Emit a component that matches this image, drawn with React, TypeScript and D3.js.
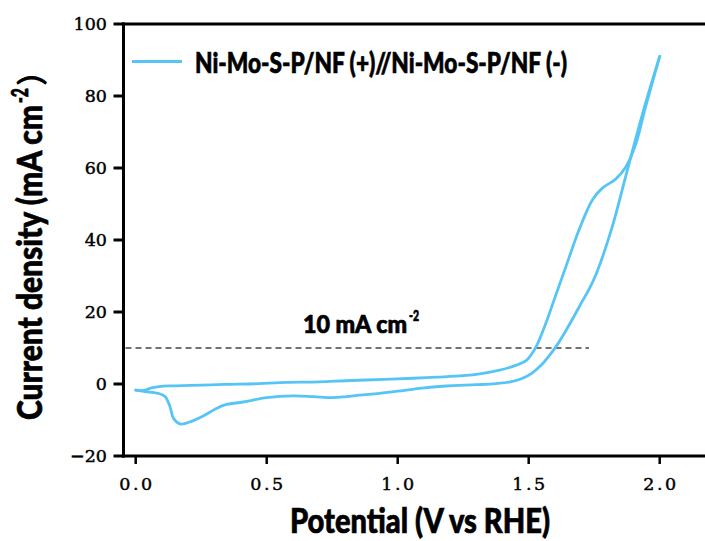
import React from "react";
import * as d3 from "d3";

const yTicks = [-20, 0, 20, 40, 60, 80, 100];
const yTickLabels = ["\u221220", "0", "20", "40", "60", "80", "100"];
const xTicks = [0, 0.5, 1.0, 1.5, 2.0];
const xTickLabels = ["0.0", "0.5", "1.0", "1.5", "2.0"];

// Branch with upper baseline at low potential and shoulder at high potential
const scanUpper: [number, number][] = [
  [0.0, -1.7], [0.03, -1.8], [0.06, -1.1], [0.09, -0.7], [0.15, -0.5],
  [0.25, -0.3], [0.34, -0.1], [0.47, 0.1], [0.55, 0.4], [0.7, 0.6],
  [0.8, 0.9], [0.95, 1.3], [1.06, 1.6], [1.15, 1.9], [1.25, 2.3],
  [1.32, 2.9], [1.38, 3.7], [1.44, 4.9], [1.49, 6.5], [1.51, 8.2],
  [1.53, 10.6], [1.565, 16.8], [1.6, 24.0], [1.642, 32.6], [1.692, 42.8],
  [1.743, 51.1], [1.781, 54.4], [1.832, 56.9], [1.87, 60.2], [1.908, 66.5],
  [1.946, 77.0], [2.0, 91.0],
];

// Branch with cathodic dip at low potential
const scanLower: [number, number][] = [
  [0.0, -1.7], [0.035, -2.1], [0.086, -2.6], [0.112, -3.5], [0.131, -6.3],
  [0.144, -9.5], [0.169, -11.1], [0.2, -10.7], [0.252, -9.1], [0.303, -7.0],
  [0.34, -5.8], [0.41, -5.0], [0.5, -3.8], [0.6, -3.3], [0.677, -3.5],
  [0.753, -3.8], [0.804, -3.5], [0.855, -3.1], [0.93, -2.6], [1.0, -2.0],
  [1.083, -1.2], [1.185, -0.55], [1.3, -0.2], [1.375, 0.1], [1.43, 0.6],
  [1.47, 1.4], [1.51, 2.9], [1.55, 5.4], [1.58, 8.0], [1.61, 11.0],
  [1.64, 14.6], [1.67, 18.4], [1.7, 22.4], [1.73, 26.3], [1.76, 31.0],
  [1.819, 43.7], [1.87, 57.6], [1.908, 68.0], [1.946, 78.0], [2.0, 91.0],
];

const refValue = 10;
const refEnd = 1.73;
const legendLabel = "Ni-Mo-S-P/NF (+)//Ni-Mo-S-P/NF (-)";
const xTitle = "Potential (V vs RHE)";
const yTitleMain = "Current density (mA cm";
const refLabel = "10 mA cm";

const COLOR = "#56C5F6";
const SANS = "Lato, 'Open Sans', sans-serif";
const SERIF = "'DejaVu Serif', 'Liberation Serif', serif";

export default function App() {
  const W = 705, H = 541;
  const x = d3.scaleLinear().domain([0, 2]).range([135.7, 659.7]);
  const y = d3.scaleLinear().domain([-20, 100]).range([456, 24]);
  const plotLeft = 123.5, plotTop = 24, plotBottom = 456, plotRight = 705;

  const line = d3
    .line<[number, number]>()
    .x((d) => x(d[0]))
    .y((d) => y(d[1]))
    .curve(d3.curveCatmullRom.alpha(0.5));

  const heavy = { stroke: "#000", strokeWidth: 0.7, fill: "#000" };

  return (
    <svg
      width={W}
      height={H}
      style={{ position: "absolute", left: 0, top: 0, background: "#fff" }}
    >
      <rect width={W} height={H} fill="#fff" />
      {/* dashed reference */}
      <line
        x1={plotLeft + 2}
        x2={x(refEnd)}
        y1={y(refValue)}
        y2={y(refValue)}
        stroke="#444"
        strokeWidth={1.3}
        strokeDasharray="6,4"
      />
      {/* curves */}
      <path d={line(scanUpper) || ""} fill="none" stroke={COLOR} strokeWidth={2.8} strokeLinecap="round" strokeLinejoin="round" />
      <path d={line(scanLower) || ""} fill="none" stroke={COLOR} strokeWidth={2.8} strokeLinecap="round" strokeLinejoin="round" />

      {/* spines */}
      <line x1={plotLeft} x2={plotLeft} y1={plotTop - 1.5} y2={plotBottom + 1.5} stroke="#000" strokeWidth={3} />
      <line x1={plotLeft - 1.5} x2={plotRight} y1={plotTop} y2={plotTop} stroke="#000" strokeWidth={3} />
      <line x1={plotLeft - 1.5} x2={plotRight} y1={plotBottom} y2={plotBottom} stroke="#000" strokeWidth={3} />

      {/* y ticks */}
      {yTicks.map((t, i) => (
        <g key={"y" + t}>
          <line x1={113.5} x2={plotLeft} y1={y(t)} y2={y(t)} stroke="#000" strokeWidth={3} />
          <text
            x={107}
            y={y(t)}
            dy="0.36em"
            textAnchor="end"
            fontFamily={SERIF}
            fontSize={17.5}
            fill="#000"
            stroke="#000"
            strokeWidth={0.45}
          >
            {yTickLabels[i]}
          </text>
        </g>
      ))}

      {/* x ticks */}
      {xTicks.map((t, i) => (
        <g key={"x" + t}>
          <line x1={x(t)} x2={x(t)} y1={plotBottom} y2={plotBottom + 8} stroke="#000" strokeWidth={2.5} />
          <text
            x={x(t) + 1.25}
            y={490}
            textAnchor="middle"
            fontFamily={SERIF}
            fontSize={17.5}
            letterSpacing={2.5}
            fill="#000"
            stroke="#000"
            strokeWidth={0.45}
          >
            {xTickLabels[i]}
          </text>
        </g>
      ))}

      {/* x title */}
      <text
        x={290}
        y={533}
        fontFamily={SANS}
        fontWeight={900}
        fontSize={35}
        textLength={260}
        lengthAdjust="spacingAndGlyphs"
        {...heavy}
      >
        {xTitle}
      </text>

      {/* y title */}
      <g transform="translate(42,420) rotate(-90)">
        <text
          x={0}
          y={0}
          fontFamily={SANS}
          fontWeight={900}
          fontSize={35}
          textLength={315}
          lengthAdjust="spacingAndGlyphs"
          {...heavy}
        >
          {yTitleMain}
        </text>
        <text x={317} y={-14} fontFamily={SANS} fontWeight={900} fontSize={22} textLength={15} lengthAdjust="spacingAndGlyphs" {...heavy}>
          -2
        </text>
        <text x={334} y={0} fontFamily={SANS} fontWeight="normal" fontSize={33} textLength={12} lengthAdjust="spacingAndGlyphs" fill="#000">
          )
        </text>
      </g>

      {/* legend */}
      <line x1={132} x2={182} y1={61.5} y2={61.5} stroke={COLOR} strokeWidth={3} />
      <text
        x={195}
        y={73}
        fontFamily={SANS}
        fontWeight={900}
        fontSize={29}
        textLength={372}
        lengthAdjust="spacingAndGlyphs"
        {...heavy}
      >
        {legendLabel}
      </text>

      {/* reference label */}
      <text
        x={303}
        y={333}
        fontFamily={SANS}
        fontWeight={900}
        fontSize={24}
        textLength={104}
        lengthAdjust="spacingAndGlyphs"
        {...heavy}
      >
        {refLabel}
      </text>
      <text x={409} y={321} fontFamily={SANS} fontWeight={900} fontSize={15} textLength={10} lengthAdjust="spacingAndGlyphs" {...heavy}>
        -2
      </text>
    </svg>
  );
}
